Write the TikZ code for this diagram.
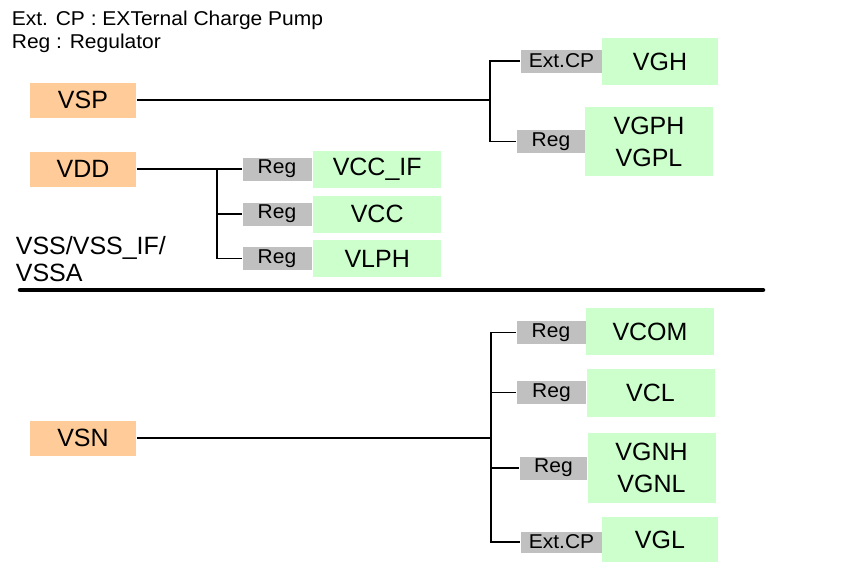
\documentclass[tikz,border=0pt]{standalone}
\usepackage{fontspec}
\setmainfont{Liberation Sans}
\newfontfamily\widefont[FakeStretch=1.05]{Liberation Sans}
\definecolor{srcfill}{HTML}{FFCC99}
\definecolor{dstfill}{HTML}{CCFFCC}
\definecolor{tagfill}{HTML}{C0C0C0}

\begin{document}
\begin{tikzpicture}[x=1pt,y=-1pt,line width=1.7pt,
  src/.style={fill=srcfill,inner sep=0pt,minimum width=106,minimum height=35,font=\fontsize{25}{30}\selectfont},
  dst/.style={fill=dstfill,inner sep=0pt,minimum width=128,minimum height=47,align=center,font=\fontsize{25}{32}\selectfont},
  tag/.style={fill=tagfill,inner sep=0pt,minimum width=69,minimum height=23,font=\widefont\fontsize{20}{22}\selectfont},
  cptag/.style={tag,minimum width=81}]
\useasboundingbox (0,0) rectangle (849,562);
% legend
\node[anchor=north west,inner sep=0pt,align=left,font=\widefont\fontsize{20}{22.5}\selectfont] (legend) at (11,10.5)
  {Ext. CP : EXTernal Charge Pump\\Reg : Regulator};
% sources
\node[src] (vsp) at (83,100) {VSP};
\node[src] (vdd) at (83,169) {VDD};
\node[src] (vsn) at (83,438) {VSN};
% VSP branch
\node[cptag] (p1) at (561.5,61) {Ext.CP};
\node[dst,minimum width=116] (vgh) at (660,61.5) {VGH};
\node[tag] (p2) at (551,141.5) {Reg};
\node[dst,minimum height=69] (vgp) at (649,141.5) {VGPH\\VGPL};
\coordinate (bp) at (490,100);
\draw (vsp.east) -- (bp);
\draw (p1.west) -| (bp) |- (p2.west);
% VDD branch
\foreach \i/\y/\lab in {1/169/VCC\_IF,2/214/VCC,3/258.5/VLPH}{
  \node[tag] (r\i) at (277,\y) {Reg};
  \node[dst,minimum height=37,anchor=west] (o\i) at (r\i.east) {\lab};
}
\coordinate (bd) at (217,169);
\draw (vdd.east) -- (r1.west);
\draw (bd) |- (r3.west);
\draw (bd |- r2.west) -- (r2.west);
% ground rail
\node[anchor=north west,inner sep=0pt,align=left,font=\fontsize{25}{27}\selectfont] (vss) at (15,236) {VSS/VSS\_IF/\\VSSA};
\coordinate (gl) at (20,290);
\coordinate (gr) at (763,290);
\draw[line width=4.5pt,line cap=round] (gl) -- (gr);
% VSN branch
\node[tag] (n1) at (551,332.5) {Reg};
\node[dst] (vcom) at (650,331.5) {VCOM};
\node[tag] (n2) at (551.5,392.5) {Reg};
\node[dst,minimum height=48] (vcl) at (650.5,393) {VCL};
\node[tag,minimum width=67] (n3) at (553.5,468) {Reg};
\node[dst,minimum height=70] (vgn) at (651.5,468) {VGNH\\VGNL};
\node[cptag,minimum height=21] (n4) at (561.5,542) {Ext.CP};
\node[dst,minimum width=116,minimum height=46] (vgl) at (660,540) {VGL};
\coordinate (bn) at (491,438);
\draw (vsn.east) -- (bn);
\draw (n1.west) -| (bn) |- (n4.west);
\draw (bn |- n2.west) -- (n2.west);
\draw (bn |- n3.west) -- (n3.west);
\end{tikzpicture}
\end{document}
